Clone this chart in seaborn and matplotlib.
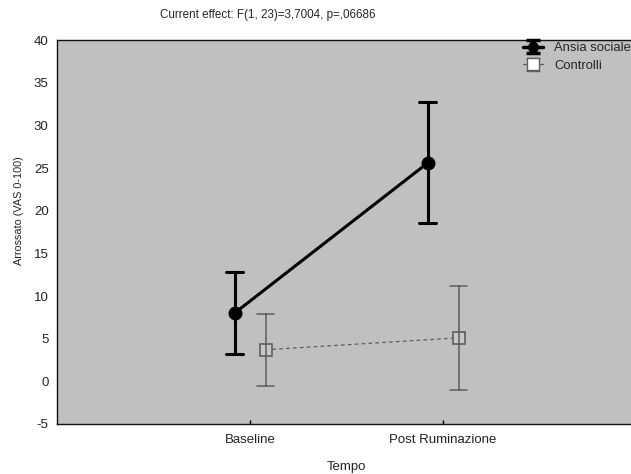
import numpy as np
import pandas as pd
import matplotlib
matplotlib.use("Agg")
import matplotlib.pyplot as plt
import seaborn as sns

# Group means and half-widths of the error bars
tempo = ["Baseline", "Post Ruminazione"]
gruppi = ["Ansia sociale", "Controlli"]
media_ansia = [8.0, 25.6]
err_ansia = [4.8, 7.1]
media_controlli = [3.7, 5.1]
err_controlli = [4.2, 6.1]
yticks = [-5, 0, 5, 10, 15, 20, 25, 30, 35, 40]

# Long-form table: each cell holds low / mean / high so that the mean estimator
# gives the point and a 100% percentile interval gives the error bar span.
rows = []
for g, medie, errs in [(gruppi[0], media_ansia, err_ansia),
                       (gruppi[1], media_controlli, err_controlli)]:
    for t, m, e in zip(tempo, medie, errs):
        for v in (m - e, m, m + e):
            rows.append({"Tempo": t, "Gruppo": g, "Valore": v})
df = pd.DataFrame(rows)

sns.set_theme(style="white")
plt.rcParams["font.family"] = ["Liberation Sans", "DejaVu Sans"]

fig = plt.figure(figsize=(6.31, 4.74), dpi=100)
ax = fig.add_axes([0.0903, 0.1055, 0.918, 0.81])
ax.set_facecolor("#c0c0c0")

col_ansia = "#000000"
col_ctrl = "#5e5e5e"
sns.pointplot(data=df, x="Tempo", y="Valore", hue="Gruppo", order=tempo,
              hue_order=gruppi, estimator="mean", errorbar=("pi", 100),
              dodge=0.16, palette=[col_ansia, col_ctrl],
              markers=["o", "s"], linestyles=["-", "--"], capsize=0.09,
              legend=False, ax=ax)

# Per-group styling of the connecting lines, markers and error bars
for ln in ax.lines:
    c = matplotlib.colors.to_hex(ln.get_color())
    has_marker = ln.get_marker() not in (None, "None", "")
    if c == col_ansia:
        ln.set_linewidth(2.2)
        if has_marker:
            ln.set_markersize(8)
    else:
        if has_marker:
            ln.set_linewidth(0.9)
            ln.set_dashes([3, 2.5])
            ln.set_markersize(8)
            ln.set_markerfacecolor("#c8c8c8")
            ln.set_markeredgecolor(col_ctrl)
            ln.set_markeredgewidth(1.2)
        else:
            ln.set_linewidth(1.1)

ax.set_xlim(-1, 2)
ax.set_ylim(-5, 40)
ax.set_yticks(yticks)
ax.set_yticklabels([str(v) for v in yticks])
ax.tick_params(axis="both", labelsize=9.5, colors="#222222")
ax.tick_params(axis="y", length=0, pad=6)
ax.tick_params(axis="x", direction="in", length=3, width=1, color="black",
               bottom=True, pad=7)
for s in ax.spines.values():
    s.set_color("#111111")
    s.set_linewidth(1.0)

ax.set_xlabel("Tempo", fontsize=9.5, labelpad=11)
ax.set_ylabel("Arrossato (VAS 0-100)", fontsize=7.8)
ax.yaxis.set_label_coords(-0.057, 0.556)
fig.text(0.425, 0.968, "Current effect: F(1, 23)=3,7004, p=,06686",
         ha="center", va="center", fontsize=8.4)

# Legend glyphs drawn as error-bar symbols
h_ansia = ax.errorbar([np.nan], [np.nan], yerr=[1], color=col_ansia, lw=2.5,
                      elinewidth=4, capsize=5, capthick=2.5, marker="o",
                      markersize=7)
h_ctrl = ax.errorbar([np.nan], [np.nan], yerr=[1], color=col_ctrl, lw=0.9,
                     elinewidth=1, capsize=5, capthick=1, marker="s",
                     markersize=8, markerfacecolor="white",
                     markeredgecolor=col_ctrl)
ax.legend([h_ansia, h_ctrl], gruppi, loc="upper left",
          bbox_to_anchor=(0.804, 0.995), frameon=False, fontsize=9.4,
          handlelength=1.55, handletextpad=0.85, labelspacing=0.43,
          borderpad=0, borderaxespad=0)

fig.savefig("out.png", dpi=100, facecolor="white")
